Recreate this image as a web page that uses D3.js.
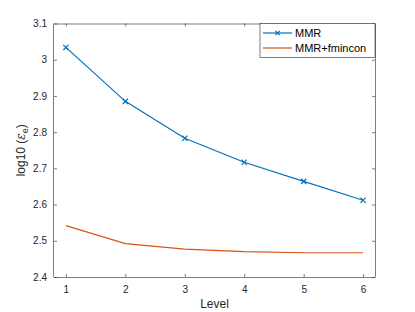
<!DOCTYPE html>
<html>
<head>
<meta charset="utf-8">
<script src="https://cdn.jsdelivr.net/npm/d3@7"></script>
<style>
  body { margin: 0; background: #fff; }
  svg { display: block; font-family: "Liberation Sans", Arial, sans-serif; }
  .axis text { fill: #262626; font-size: 10px; }
  .axis path, .axis line { stroke: #262626; stroke-width: 0.6; }
</style>
</head>
<body>
<svg width="415" height="312"></svg>
<script>
var levels = [1, 2, 3, 4, 5, 6];
var mmr = [3.034, 2.885, 2.783, 2.717, 2.664, 2.612];
var mmrFmincon = [2.542, 2.492, 2.477, 2.470, 2.467, 2.467];
var yTicks = [2.4, 2.5, 2.6, 2.7, 2.8, 2.9, 3, 3.1];
var seriesNames = ["MMR", "MMR+fmincon"];

var margin = {top: 23.5, right: 40, bottom: 35, left: 54},
    width = 415 - margin.left - margin.right,
    height = 312 - margin.top - margin.bottom;

var svg = d3.select("svg");
var g = svg.append("g")
    .attr("transform", "translate(" + margin.left + "," + margin.top + ")");

var x = d3.scaleLinear().domain([0.8, 6.2]).range([0, width]);
var y = d3.scaleLinear().domain([2.4, 3.1]).range([height, 0]);

// bottom / left axes with inward ticks
g.append("g")
    .attr("class", "axis")
    .attr("transform", "translate(0," + height + ")")
    .call(d3.axisBottom(x).tickValues(levels).tickFormat(d3.format("d")).tickSizeInner(-3).tickSizeOuter(0).tickPadding(9))
    .call(a => a.select(".domain").attr("d", "M0,0.5H" + width));

g.append("g")
    .attr("class", "axis")
    .call(d3.axisLeft(y).tickValues(yTicks).tickFormat(d3.format("")).tickSizeInner(-3).tickSizeOuter(0).tickPadding(7))
    .call(a => a.select(".domain").attr("d", "M-0.5,0V" + height));

// mirrored top / right axes
g.append("g")
    .attr("class", "axis")
    .call(d3.axisTop(x).tickValues(levels).tickSizeInner(-3).tickSizeOuter(0).tickFormat(""));

g.append("g")
    .attr("class", "axis")
    .attr("transform", "translate(" + width + ",0)")
    .call(d3.axisRight(y).tickValues(yTicks).tickSizeInner(-3).tickSizeOuter(0).tickFormat(""));

var line = d3.line().x((d, i) => x(levels[i])).y(d => y(d));

g.append("path")
    .datum(mmrFmincon)
    .attr("fill", "none")
    .attr("stroke", "#D95319")
    .attr("stroke-width", 1.2)
    .attr("d", line);

g.append("path")
    .datum(mmr)
    .attr("fill", "none")
    .attr("stroke", "#0072BD")
    .attr("stroke-width", 1.2)
    .attr("d", line);

var s = 2.6;
g.selectAll(".mk")
    .data(mmr)
    .enter()
    .append("path")
    .attr("class", "mk")
    .attr("transform", (d, i) => "translate(" + x(levels[i]) + "," + y(d) + ")")
    .attr("d", "M" + -s + "," + -s + "L" + s + "," + s + "M" + -s + "," + s + "L" + s + "," + -s)
    .attr("stroke", "#0072BD")
    .attr("stroke-width", 1.2);

// axis titles
g.append("text")
    .attr("x", x(3.5))
    .attr("y", height + 31)
    .attr("text-anchor", "middle")
    .attr("fill", "#262626")
    .style("font-size", "12px")
    .text("Level");

var yl = g.append("text")
    .attr("transform", "translate(-29," + y(2.75) + ") rotate(-90)")
    .attr("text-anchor", "middle")
    .attr("fill", "#262626")
    .style("font-size", "12px");
yl.append("tspan").text("log10 (");
yl.append("tspan").style("font-family", "DejaVu Serif").style("font-style", "italic").text("\u03b5");
yl.append("tspan").attr("dy", 3).style("font-size", "9px").text("e");
yl.append("tspan").attr("dy", -3).text(")");

// legend
var lg = g.append("g").attr("transform", "translate(" + (width - 115) + ",0)");
lg.append("rect")
    .attr("width", 115).attr("height", 34)
    .attr("fill", "#fff").attr("stroke", "#262626").attr("stroke-width", 0.6);
var colors = ["#0072BD", "#D95319"];
seriesNames.forEach(function(name, i) {
  var ly = 9.5 + i * 15;
  lg.append("line")
      .attr("x1", 3).attr("x2", 32).attr("y1", ly).attr("y2", ly)
      .attr("stroke", colors[i]).attr("stroke-width", 1.2);
  if (i === 0) {
    lg.append("path")
        .attr("transform", "translate(17.5," + ly + ")")
        .attr("d", "M-2.2,-2.2L2.2,2.2M-2.2,2.2L2.2,-2.2")
        .attr("stroke", colors[i]).attr("stroke-width", 1.2);
  }
  lg.append("text")
      .attr("x", 35).attr("y", ly + 4)
      .attr("fill", "#000")
      .style("font-size", "11px")
      .text(name);
});
</script>
</body>
</html>
